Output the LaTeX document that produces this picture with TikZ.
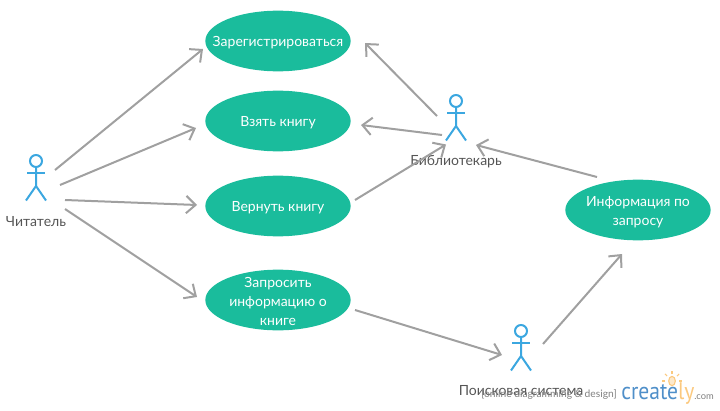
\documentclass[tikz,border=0pt]{standalone}
\usepackage{fontspec}
\setmainfont{Lato}
\newfontfamily\logofont{PT Sans}
\usetikzlibrary{arrows.meta,shapes.geometric}
\definecolor{usecasegreen}{HTML}{1ABC9C}
\definecolor{actorblue}{HTML}{3BA7E0}
\definecolor{flowgray}{HTML}{A0A0A0}
\definecolor{labelgray}{HTML}{555555}
\definecolor{logoblue}{HTML}{4F8FC9}
\definecolor{logoorange}{HTML}{FBC97F}
\newcommand{\topstrut}[1]{\rule{0pt}{#1}}
\begin{document}
\begin{tikzpicture}[
    x=0.75pt, y=-0.75pt,
    usecase/.style={ellipse, fill=usecasegreen, text=white, minimum width=109pt, minimum height=45.5pt, inner xsep=-20pt, inner ysep=-12pt, align=center, font=\fontsize{10.5}{14.25}\selectfont, execute at begin node={\rule{0pt}{10pt}}},
    actor/.style={circle, draw=actorblue, line width=1.5pt, fill=white, minimum size=9pt, inner sep=0pt},
    stick/.style={draw=actorblue, line width=1.5pt},
    actorname/.style={text=labelgray, inner sep=0pt, font=\fontsize{10.5}{13}\selectfont},
    flow/.style={draw=flowgray, line width=1.5pt, -{Straight Barb[length=7pt,width=13pt,line width=1.5pt]}}
]
\useasboundingbox (0,0) rectangle (720,410);

\node[usecase] (signup) at (278,41) {Зарегистрироваться};
\node[usecase] (borrow) at (278,121) {Взять книгу};
\node[usecase] (giveback) at (278,206) {Вернуть книгу};
\node[usecase] (query) at (278,300) {\topstrut{9.5pt}Запросить\\информацию о\\книге};
\node[usecase] (info) at (638,210) {\topstrut{10.5pt}Информация по\\запросу};

\node[actor] (reader) at (36,161) {};
\node[actor] (librarian) at (456,101) {};
\node[actor] (searcher) at (521,331) {};

% stick figures below the heads
\foreach \who in {reader,librarian,searcher} {
    \draw[stick] (\who.south) -- ++(0,18) -- ++(-10,14.5);
    \draw[stick] (\who.south) ++(0,18) -- ++(10,14.5);
    \draw[stick] (\who.south) ++(-9,4.5) -- ++(18,0);
}

\node[actorname] (readername) at (36,222) {Читатель};
\node[actorname] (librarianname) at (456,162) {Библиотекарь};
\node[actorname] (searchername) at (521,391) {Поисковая система};

% Reader
\draw[flow] ([shift={(19,9)}]reader.center) -- ([shift={(-75,8)}]signup.center);
\draw[flow] ([shift={(24,24)}]reader.center) -- ([shift={(-82,7)}]borrow.center);
\draw[flow] ([shift={(29,39)}]reader.center) -- ([shift={(-81,-1)}]giveback.center);
\draw[flow] ([shift={(29,48)}]reader.center) -- ([shift={(-81,-3)}]query.center);

% Librarian
\draw[flow] ([shift={(-19,15)}]librarian.center) -- ([shift={(87,2)}]signup.center);
\draw[flow] ([shift={(-14,34)}]librarian.center) -- ([shift={(83,4)}]borrow.center);
\draw[flow] ([shift={(77,-6)}]giveback.center) -- ([shift={(-10,43.5)}]librarian.center);
\draw[flow] ([shift={(-41,-33)}]info.center) -- ([shift={(20,44)}]librarian.center);

% Search system
\draw[flow] ([shift={(77,10)}]query.center) -- ([shift={(-19,24)}]searcher.center);
\draw[flow] ([shift={(22,13)}]searcher.center) -- ([shift={(-16,44)}]info.center);

% Logo
\node[text=gray, inner sep=0pt, font=\fontsize{7.7}{9}\selectfont] (tagline) at (549,394) {[online diagramming \& design]};
\node[text=logoblue, inner sep=0pt, anchor=base west, font=\logofont\fontsize{18}{20}\selectfont] (logo) at (621,399) {\scalebox{0.9}[1]{create\textcolor{logoorange}{ly}}};
\node[text=gray, inner sep=0pt, anchor=base west, font=\fontsize{7}{9}\selectfont] (logocom) at (694,399) {.com};
\node[ellipse, draw=logoorange, fill=logoorange!40, line width=0.8pt, minimum width=5pt, minimum height=7pt, inner sep=0pt] (bulb) at (672,381) {};
\foreach \a in {180,225,270,315,360}
    \draw[logoorange, line width=0.8pt] (bulb.center) ++(\a:7) -- ++(\a:3);
\end{tikzpicture}
\end{document}
